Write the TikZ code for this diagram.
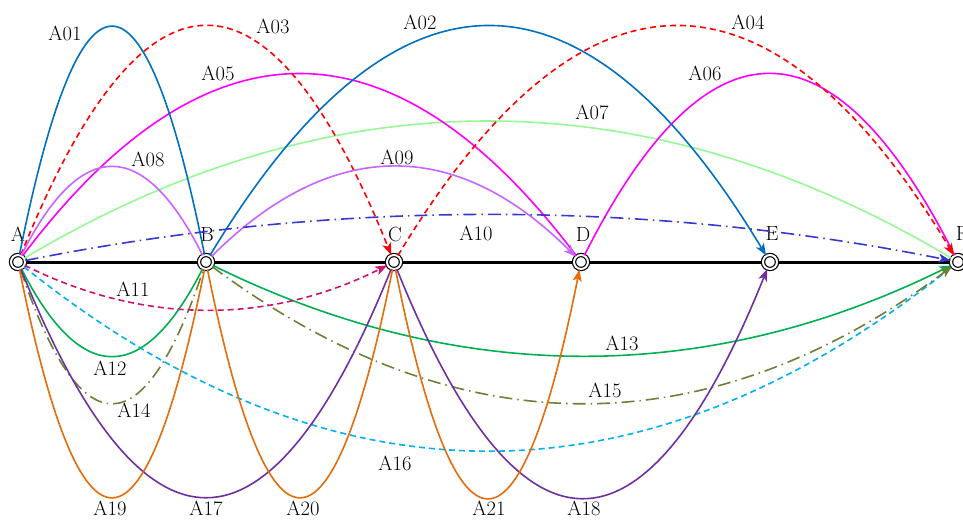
\documentclass[tikz,border=0pt]{standalone}
\usepackage{fontspec}
\usetikzlibrary{arrows.meta,backgrounds}
\definecolor{cblue}{HTML}{0070C0}
\definecolor{cred}{HTML}{FF0000}
\definecolor{cmag}{HTML}{FF00FF}
\definecolor{clgreen}{HTML}{96F996}
\definecolor{cviolet}{HTML}{C864FF}
\definecolor{cdblue}{HTML}{3838D0}
\definecolor{ccrim}{HTML}{D0106E}
\definecolor{cgreen}{HTML}{00B050}
\definecolor{colive}{HTML}{6E8038}
\definecolor{ccyan}{HTML}{00B0F0}
\definecolor{cpurple}{HTML}{7030A0}
\definecolor{corange}{HTML}{E46C0A}
\tikzset{
  stn/.style={circle, draw=black, fill=white, line width=1.2pt, double=white, double distance=2pt, minimum size=14pt, inner sep=0pt},
  lbl/.style={font=\fontsize{20.5}{23}\selectfont, inner sep=0pt},
  arc/.style={line width=1.6pt},
  tip/.style={-{Stealth[length=12pt,width=9pt,inset=3pt]}},
  dsh/.style={dash pattern=on 6pt off 4pt},
  dshdot/.style={dash pattern=on 13pt off 5pt on 1.5pt off 5pt},
  baseln/.style={line width=3pt, black}
}
\begin{document}
\begin{tikzpicture}[x=1pt,y=-1pt]
\useasboundingbox (0,0) rectangle (963,519);
% stations
\node[stn] (A) at (18,262) {};
\node[stn] (B) at (206,262) {};
\node[stn] (C) at (394,262) {};
\node[stn] (D) at (581,262) {};
\node[stn] (E) at (770,262) {};
\node[stn] (F) at (958,262) {};
\begin{scope}[on background layer]
\draw[baseln] (A.center) -- (F.center);
\end{scope}
% station letters
\node[lbl] (tA) at (18,234) {A};
\node[lbl] (tB) at (207,234) {B};
\node[lbl] (tC) at (395,234) {C};
\node[lbl] (tD) at (583,234) {D};
\node[lbl] (tE) at (772,234) {E};
\node[lbl] (tF) at (962,234) {F};
% upper arcs
\draw[arc, clgreen] (A) .. controls (331.3,75.3) and (644.7,75.3) .. (F);
\draw[arc, cmag] (A) .. controls (205.7,12.7) and (393.3,12.7) .. (D);
\draw[arc, cmag] (D) .. controls (706.7,12.7) and (832.3,12.7) .. (F);
\draw[arc, cblue] (A) .. controls (80.7,-50) and (143.3,-50) .. (B);
\draw[arc, cblue, tip] (B) .. controls (394,-50) and (582,-50) .. (E);
\draw[arc, cred, dsh, tip] (A) .. controls (143.3,-50) and (268.7,-50) .. (C);
\draw[arc, cred, dsh, tip] (C) .. controls (582,-50) and (770,-50) .. (F);
\draw[arc, cviolet] (A) .. controls (80.7,136.7) and (143.3,136.7) .. (B);
\draw[arc, cviolet, tip] (B) .. controls (331,136.7) and (456,136.7) .. (D);
\draw[arc, cdblue, dshdot, tip] (A) .. controls (331.3,199.3) and (644.7,199.3) .. (F);
% lower arcs
\draw[arc, ccyan, dsh] (A) .. controls (331.3,512.7) and (644.7,512.7) .. (F);
\draw[arc, cgreen] (A) .. controls (80.7,386) and (143.3,386) .. (B);
\draw[arc, cgreen, tip] (B) .. controls (456.7,386) and (707.3,386) .. (F);
\draw[arc, colive, dshdot] (A) .. controls (80.7,448.7) and (143.3,448.7) .. (B);
\draw[arc, colive, dshdot, tip] (B) .. controls (456.7,448.7) and (707.3,448.7) .. (F);
\draw[arc, cpurple] (A) .. controls (143.3,574) and (268.7,574) .. (C);
\draw[arc, cpurple, tip] (C) .. controls (519.3,574) and (644.7,574) .. (E);
\draw[arc, corange] (A) .. controls (80.7,574) and (143.3,574) .. (B);
\draw[arc, corange] (B) .. controls (268.7,574) and (331.3,574) .. (C);
\draw[arc, corange, tip] (C) .. controls (456.3,574) and (518.7,574) .. (D);
\draw[arc, ccrim, dsh, tip] (A) .. controls (143.3,324.7) and (268.7,324.7) .. (C);
% labels
\node[lbl] (l01) at (65,33) {A01};
\node[lbl] (l02) at (420,22) {A02};
\node[lbl] (l03) at (273,26) {A03};
\node[lbl] (l04) at (748,22) {A04};
\node[lbl] (l05) at (218,73) {A05};
\node[lbl] (l06) at (705,73) {A06};
\node[lbl] (l07) at (592,112) {A07};
\node[lbl] (l08) at (148,159) {A08};
\node[lbl] (l09) at (397,157) {A09};
\node[lbl] (l10) at (476,233) {A10};
\node[lbl] (l11) at (133,289) {A11};
\node[lbl] (l12) at (110,368) {A12};
\node[lbl] (l13) at (622,343) {A13};
\node[lbl] (l14) at (134,410) {A14};
\node[lbl] (l15) at (605,390) {A15};
\node[lbl] (l16) at (395,463) {A16};
\node[lbl] (l17) at (206,508) {A17};
\node[lbl] (l18) at (584,508) {A18};
\node[lbl] (l19) at (110,508) {A19};
\node[lbl] (l20) at (303,508) {A20};
\node[lbl] (l21) at (489,508) {A21};
\end{tikzpicture}
\end{document}
